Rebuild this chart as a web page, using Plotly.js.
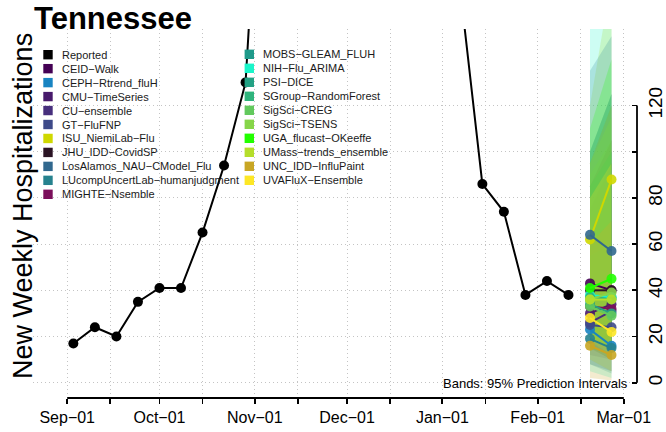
<!DOCTYPE html>
<html>
<head>
<meta charset="utf-8">
<script src="https://cdn.plot.ly/plotly-3.0.1.min.js"></script>
<style>html,body{margin:0;padding:0;background:#fff;}</style>
</head>
<body>
<div id="chart" style="width:666px;height:432px;"></div>
<script>
// Weekly reported hospital admissions (week ending dates)
const reportedDates = [
  '2022-09-03','2022-09-10','2022-09-17','2022-09-24','2022-10-01','2022-10-08',
  '2022-10-15','2022-10-22','2022-10-29','2022-11-05','2022-11-12','2022-11-19',
  '2022-11-26','2022-12-03','2022-12-10','2022-12-17','2022-12-24','2022-12-31',
  '2023-01-07','2023-01-14','2023-01-21','2023-01-28','2023-02-04','2023-02-11'
];
const reportedValues = [
  17, 24, 20, 35, 41, 41,
  65, 94, 130, 262, 430, 610,
  760, 700, 520, 390, 300, 235,
  168, 86, 74, 38, 44, 38
];

// Forecasting teams and their colours
const models = [
  'CEID-Walk','CEPH-Rtrend_fluH','CMU-TimeSeries','CU-ensemble','GT-FluFNP',
  'ISU_NiemiLab-Flu','JHU_IDD-CovidSP','LosAlamos_NAU-CModel_Flu',
  'LUcompUncertLab-humanjudgment','MIGHTE-Nsemble',
  'MOBS-GLEAM_FLUH','NIH-Flu_ARIMA','PSI-DICE','SGroup-RandomForest','SigSci-CREG',
  'SigSci-TSENS','UGA_flucast-OKeeffe','UMass-trends_ensemble','UNC_IDD-InfluPaint',
  'UVAFluX-Ensemble'
];
const modelColors = [
  '#440154','#1884c2','#481a6c','#472f7d','#3e4a89',
  '#cfd800','#2b1424','#31688e','#26828e','#7b0f5b',
  '#1f9a8a','#1af5c9','#23a184','#2fb47c','#62c95d',
  '#86d549','#22ff00','#b5de2b','#c8a624','#fde725'
];

// Forecast target weeks (1 and 2 weeks ahead)
const forecastDates = ['2023-02-18', '2023-02-25'];
// Point forecasts (median)
const medianWk1 = [43, 23, 30, 26, 25, 62, 40, 64, 19, 33, 36, 38, 34, 37, 33, 36, 41, 36, 16, 28];
const medianWk2 = [40, 16, 34, 31, 24, 88, 40, 57, 15, 32, 37, 37, 30, 36, 29, 39, 45, 36, 12, 22];
// 95% prediction interval bounds
const lowerWk1 = [25, 10, 15, 12,  8, 30, 20, 35,  8, 15, 18,   5, 15, 20, 15, 18, 20, 18,  2, 10];
const lowerWk2 = [15,  5, 12, 10,  5, 35, 15, 25,  4, 10, 12,   2, 10, 15, 10, 15, 15, 12,  1,  5];
const upperWk1 = [95, 60, 75, 70, 80,120,100,135, 55, 85,100, 170, 85, 85, 90, 95,110, 95, 60, 80];
const upperWk2 = [120,70, 95, 90, 95,175,125,150, 60,105,125, 210,100,100,105,115,140,120, 70, 95];

// Axis ticks
const xTickDates = [
  '2022-09-01','2022-09-15','2022-10-01','2022-10-15','2022-11-01','2022-11-15',
  '2022-12-01','2022-12-15','2023-01-01','2023-01-15','2023-02-01','2023-02-15','2023-03-01'
];
const xTickLabels = ['Sep\u221201','','Oct\u221201','','Nov\u221201','','Dec\u221201','',
                     'Jan\u221201','','Feb\u221201','','Mar\u221201'];
const yTickValues = [0, 20, 40, 60, 80, 100, 120];
const yTickLabels = ['0', '20', '40', '60', '80', '', '120'];

// ---- plot geometry (pixels) ----
const W = 666, H = 432;
const PL = 33, PR = 631, PT = 29, PB = 398;
const xp = px => (px - PL) / (PR - PL);
const yp = py => (PB - py) / (PB - PT);
const dash = s => s.replace(/-/g, '\u2212');

function rgba(hex, a) {
  const n = parseInt(hex.slice(1), 16);
  return 'rgba(' + ((n >> 16) & 255) + ',' + ((n >> 8) & 255) + ',' + (n & 255) + ',' + a + ')';
}

const traces = [];

// prediction interval bands
models.forEach((m, i) => {
  traces.push({
    type: 'scatter', mode: 'lines',
    x: [forecastDates[0], forecastDates[1], forecastDates[1], forecastDates[0]],
    y: [lowerWk1[i], lowerWk2[i], upperWk2[i], upperWk1[i]],
    fill: 'toself', fillcolor: rgba(modelColors[i], 0.22),
    line: { width: 0 }, hoverinfo: 'skip', showlegend: false
  });
});

// reported series
traces.push({
  type: 'scatter', mode: 'lines+markers', name: 'Reported',
  x: reportedDates, y: reportedValues,
  line: { color: '#000', width: 2 },
  marker: { color: '#000', size: 10 },
  showlegend: false
});

// point forecasts
models.forEach((m, i) => {
  traces.push({
    type: 'scatter', mode: 'lines+markers', name: m,
    x: forecastDates, y: [medianWk1[i], medianWk2[i]],
    line: { color: modelColors[i], width: 2 },
    marker: { color: modelColors[i], size: 10, opacity: 0.9 },
    showlegend: false
  });
});

// ---- hand-placed two-column key ----
const shapes = [];
const annotations = [];
const col1 = ['Reported'].concat(models.slice(0, 10));
const col1Colors = ['#000000'].concat(modelColors.slice(0, 10));
const col2 = models.slice(10);
const col2Colors = modelColors.slice(10);

function keyEntry(label, color, cx, cy) {
  const h = 4.7;
  shapes.push({
    type: 'rect', xref: 'paper', yref: 'paper', layer: 'above',
    x0: xp(cx - h), x1: xp(cx + h), y0: yp(cy + h), y1: yp(cy - h),
    fillcolor: color, line: { width: 0 }
  });
  annotations.push({
    xref: 'paper', yref: 'paper', x: xp(cx + 12), y: yp(cy),
    xanchor: 'left', yanchor: 'middle', showarrow: false,
    text: dash(label), font: { size: 11, color: '#1a1a1a' }
  });
}
col1.forEach((t, i) => keyEntry(t, col1Colors[i], 48, 54.7 + i * 13.96));
col2.forEach((t, i) => keyEntry(t, col2Colors[i], 249.3, 54.3 + i * 14.0));

// axis spines limited to the tick span
shapes.push({
  type: 'line', xref: 'paper', yref: 'y', layer: 'above',
  x0: xp(637), x1: xp(637), y0: 0, y1: 120,
  line: { color: '#000', width: 1.8 }
});
shapes.push({
  type: 'line', xref: 'x', yref: 'paper', layer: 'above',
  x0: xTickDates[0], x1: xTickDates[xTickDates.length - 1], y0: 0, y1: 0,
  line: { color: '#000', width: 1.8 }
});

annotations.push({
  xref: 'paper', yref: 'paper', x: xp(23), y: yp(206),
  xanchor: 'center', yanchor: 'middle', textangle: -90, showarrow: false,
  text: 'New Weekly Hospitalizations', font: { size: 27, color: '#000' }
});
annotations.push({
  xref: 'paper', yref: 'paper', x: xp(630), y: yp(383),
  xanchor: 'right', yanchor: 'middle', showarrow: false,
  text: 'Bands: 95% Prediction Intervals', font: { size: 13, color: '#000' }
});

const layout = {
  width: W, height: H,
  margin: { l: PL, r: W - PR, t: PT, b: H - PB, pad: 0 },
  paper_bgcolor: '#ffffff', plot_bgcolor: '#ffffff',
  showlegend: false,
  font: { family: 'Liberation Sans, Arial, Helvetica, sans-serif', color: '#000' },
  title: {
    text: '<b>Tennessee</b>', xref: 'container', yref: 'container',
    x: 34 / W, xanchor: 'left', y: 1 - 18 / H, yanchor: 'middle',
    font: { size: 31, color: '#000' }
  },
  xaxis: {
    type: 'date', range: ['2022-08-20 21:00', '2023-03-03 08:00'],
    tickmode: 'array', tickvals: xTickDates, ticktext: xTickLabels,
    ticks: 'outside', ticklen: 5, tickwidth: 1.8, tickcolor: '#000',
    tickfont: { size: 16, color: '#000' },
    showline: false, zeroline: false,
    showgrid: true, gridcolor: '#c4c4c4', gridwidth: 1, griddash: '1px,3px'
  },
  yaxis: {
    range: [-6.62, 153.12], side: 'right', anchor: 'free', position: 1, shift: 6,
    tickmode: 'array', tickvals: yTickValues, ticktext: yTickLabels,
    ticks: 'inside', ticklen: 5, tickwidth: 1.8, tickcolor: '#000',
    tickangle: -90, tickfont: { size: 19, color: '#000' }, ticklabelstandoff: 5,
    showline: false, zeroline: false,
    showgrid: true, gridcolor: '#c4c4c4', gridwidth: 1, griddash: '1px,3px'
  },
  shapes: shapes,
  annotations: annotations
};

Plotly.newPlot('chart', traces, layout, { staticPlot: true, displayModeBar: false });
</script>
</body>
</html>
